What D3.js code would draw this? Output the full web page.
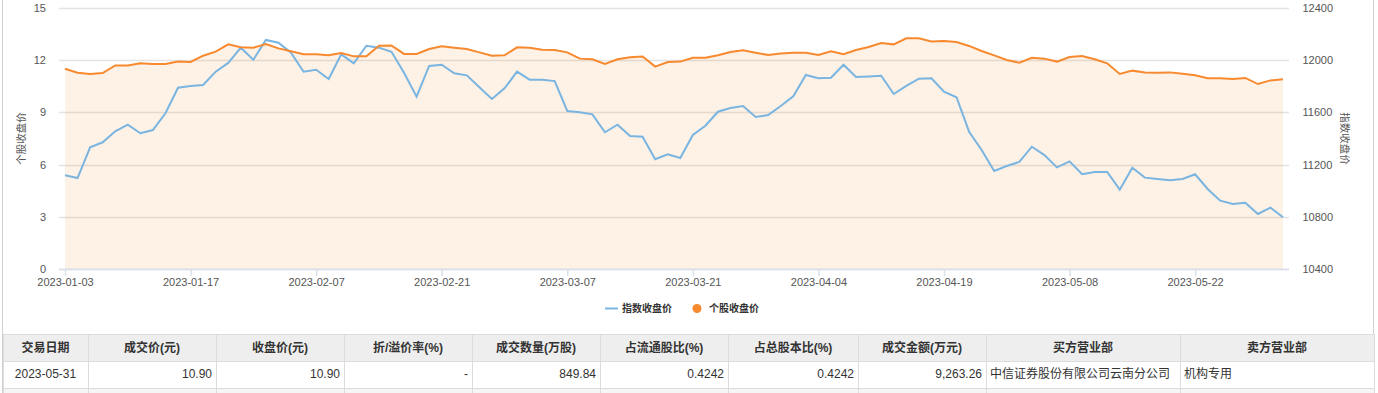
<!DOCTYPE html>
<html>
<head>
<meta charset="utf-8">
<script src="https://cdn.jsdelivr.net/npm/d3@7"></script>
<style>
  body { margin: 0; background: #fff; }
  text { font-family: "Liberation Sans", "Noto Sans CJK SC", sans-serif; }
</style>
</head>
<body>
<div id="chart"></div>
<script>
var dates = [
  '2023-01-03','2023-01-04','2023-01-05','2023-01-06','2023-01-09','2023-01-10','2023-01-11','2023-01-12','2023-01-13','2023-01-16',
  '2023-01-17','2023-01-18','2023-01-19','2023-01-20','2023-01-30','2023-01-31','2023-02-01','2023-02-02','2023-02-03','2023-02-06',
  '2023-02-07','2023-02-08','2023-02-09','2023-02-10','2023-02-13','2023-02-14','2023-02-15','2023-02-16','2023-02-17','2023-02-20',
  '2023-02-21','2023-02-22','2023-02-23','2023-02-24','2023-02-27','2023-02-28','2023-03-01','2023-03-02','2023-03-03','2023-03-06',
  '2023-03-07','2023-03-08','2023-03-09','2023-03-10','2023-03-13','2023-03-14','2023-03-15','2023-03-16','2023-03-17','2023-03-20',
  '2023-03-21','2023-03-22','2023-03-23','2023-03-24','2023-03-27','2023-03-28','2023-03-29','2023-03-30','2023-03-31','2023-04-03',
  '2023-04-04','2023-04-06','2023-04-07','2023-04-10','2023-04-11','2023-04-12','2023-04-13','2023-04-14','2023-04-17','2023-04-18',
  '2023-04-19','2023-04-20','2023-04-21','2023-04-24','2023-04-25','2023-04-26','2023-04-27','2023-04-28','2023-05-04','2023-05-05',
  '2023-05-08','2023-05-09','2023-05-10','2023-05-11','2023-05-12','2023-05-15','2023-05-16','2023-05-17','2023-05-18','2023-05-19',
  '2023-05-22','2023-05-23','2023-05-24','2023-05-25','2023-05-26','2023-05-29','2023-05-30','2023-05-31'
];

// 个股收盘价 (left axis)
var stockClose = [
  11.51, 11.28, 11.21, 11.26, 11.70, 11.70, 11.82, 11.78, 11.78, 11.92,
  11.90, 12.26, 12.49, 12.91, 12.74, 12.72, 12.93, 12.68, 12.51, 12.34,
  12.34, 12.28, 12.41, 12.22, 12.22, 12.83, 12.85, 12.36, 12.36, 12.64,
  12.80, 12.72, 12.64, 12.45, 12.26, 12.28, 12.74, 12.72, 12.60, 12.58,
  12.45, 12.09, 12.05, 11.78, 12.05, 12.17, 12.21, 11.63, 11.90, 11.92,
  12.14, 12.14, 12.28, 12.47, 12.57, 12.43, 12.30, 12.39, 12.43, 12.43,
  12.30, 12.51, 12.34, 12.59, 12.76, 12.99, 12.91, 13.26, 13.26, 13.08,
  13.10, 13.05, 12.82, 12.53, 12.28, 12.01, 11.86, 12.14, 12.09, 11.92,
  12.18, 12.24, 12.05, 11.82, 11.21, 11.40, 11.30, 11.28, 11.30, 11.22,
  11.13, 10.96, 10.96, 10.92, 10.98, 10.63, 10.84, 10.90
];

// 指数收盘价 (right axis)
var indexClose = [
  11118, 11097, 11332, 11371, 11455, 11506, 11440, 11465, 11593, 11789,
  11803, 11810, 11912, 11979, 12096, 12004, 12155, 12134, 12057, 11912,
  11927, 11856, 12045, 11976, 12111, 12096, 12065, 11904, 11720, 11956,
  11965, 11900, 11884, 11792, 11703, 11784, 11912, 11851, 11851, 11840,
  11611, 11601, 11585, 11448, 11506, 11419, 11414, 11241, 11279, 11251,
  11427, 11498, 11605, 11633, 11649, 11565, 11580, 11649, 11724, 11887,
  11861, 11866, 11965, 11871, 11876, 11881, 11741, 11803, 11858, 11861,
  11759, 11716, 11452, 11312, 11151, 11189, 11220, 11337, 11273, 11179,
  11225, 11126, 11143, 11143, 11008, 11176, 11100, 11090, 11080, 11090,
  11126, 11013, 10924, 10898, 10908, 10822, 10870, 10796
];

var xTickLabels = ['2023-01-03','2023-01-17','2023-02-07','2023-02-21','2023-03-07',
  '2023-03-21','2023-04-04','2023-04-19','2023-05-08','2023-05-22'];
var leftTicks = [0, 3, 6, 9, 12, 15];
var rightTicks = [10400, 10800, 11200, 11600, 12000, 12400];

var legendItems = ['指数收盘价', '个股收盘价'];
var tableHeaders = ['交易日期','成交价(元)','收盘价(元)','折/溢价率(%)','成交数量(万股)',
  '占流通股比(%)','占总股本比(%)','成交金额(万元)','买方营业部','卖方营业部'];
var tableRow = ['2023-05-31','10.90','10.90','-','849.84','0.4242','0.4242','9,263.26',
  '中信证券股份有限公司云南分公司','机构专用'];
var colEdges = [3, 88, 216, 344, 472, 600, 728, 858, 986, 1180, 1374];
var colAlign = ['middle','end','end','end','end','end','end','end','start','start'];

var W = 1378, H = 393;
var blue = '#79b5e0', orange = '#f7892f';

var svg = d3.select('#chart').append('svg')
  .attr('width', W)
  .attr('height', H);

svg.append('rect').attr('width', W).attr('height', H).attr('fill', '#fff');

var x = d3.scalePoint().domain(dates).range([65, 1283]);
var yL = d3.scaleLinear().domain([0, 15]).range([269, 8]);
var yR = d3.scaleLinear().domain([10400, 12400]).range([269, 8]);

// grid lines
svg.append('g').selectAll('line')
  .data(leftTicks)
  .enter().append('line')
  .attr('x1', 59).attr('x2', 1289)
  .attr('y1', function(d) { return Math.round(yL(d)) + 0.5; })
  .attr('y2', function(d) { return Math.round(yL(d)) + 0.5; })
  .attr('stroke', '#e3e3e3')
  .attr('stroke-width', 1.3);

// area under stock line
var area = d3.area()
  .x(function(d, i) { return x(dates[i]); })
  .y0(yL(0))
  .y1(function(d) { return yL(d); });

svg.append('path')
  .datum(stockClose)
  .attr('d', area)
  .attr('fill', orange)
  .attr('fill-opacity', 0.12);

// x axis
svg.append('line')
  .attr('x1', 59).attr('x2', 1289)
  .attr('y1', 269.5).attr('y2', 269.5)
  .attr('stroke', '#d8e0ea')
  .attr('stroke-width', 1.5);

var xAxis = svg.append('g')
  .attr('transform', 'translate(0,269)')
  .call(d3.axisBottom(x).tickValues(xTickLabels).tickSize(7).tickPadding(2));
xAxis.select('.domain').remove();
xAxis.selectAll('.tick line').attr('stroke', '#d8e0ea').attr('stroke-width', 1.5);
xAxis.selectAll('text').attr('fill', '#555').style('font-size', '11px');

var leftAxis = svg.append('g')
  .attr('transform', 'translate(59,0)')
  .call(d3.axisLeft(yL).tickValues(leftTicks).tickSize(0).tickPadding(13));
leftAxis.select('.domain').remove();
leftAxis.selectAll('text').attr('fill', '#555').style('font-size', '11px');

var rightAxis = svg.append('g')
  .attr('transform', 'translate(1289,0)')
  .call(d3.axisRight(yR).tickValues(rightTicks).tickFormat(d3.format('d')).tickSize(0).tickPadding(13.5));
rightAxis.select('.domain').remove();
rightAxis.selectAll('text').attr('fill', '#555').style('font-size', '11px');

// axis titles
svg.append('text')
  .attr('transform', 'translate(21.5,138.5) rotate(-90)')
  .attr('text-anchor', 'middle')
  .attr('dy', '0.35em')
  .attr('fill', '#555')
  .style('font-size', '10.5px')
  .text('个股收盘价');

svg.append('text')
  .attr('transform', 'translate(1345,138.5) rotate(90)')
  .attr('text-anchor', 'middle')
  .attr('dy', '0.35em')
  .attr('fill', '#555')
  .style('font-size', '10.5px')
  .text('指数收盘价');

// lines
var indexLine = d3.line()
  .x(function(d, i) { return x(dates[i]); })
  .y(function(d) { return yR(d); });
var stockLine = d3.line()
  .x(function(d, i) { return x(dates[i]); })
  .y(function(d) { return yL(d); });

svg.append('path')
  .datum(indexClose)
  .attr('d', indexLine)
  .attr('fill', 'none')
  .attr('stroke', blue)
  .attr('stroke-width', 2);

svg.append('path')
  .datum(stockClose)
  .attr('d', stockLine)
  .attr('fill', 'none')
  .attr('stroke', orange)
  .attr('stroke-width', 2);

// legend
var lg = svg.append('g').attr('transform', 'translate(0,308)');
lg.append('line')
  .attr('x1', 605).attr('x2', 618).attr('y1', 0.5).attr('y2', 0.5)
  .attr('stroke', blue).attr('stroke-width', 2);
lg.append('text')
  .attr('x', 622).attr('dy', '0.35em')
  .attr('fill', '#333').style('font-size', '10px').style('font-weight', 'bold')
  .text(legendItems[0]);
lg.append('circle')
  .attr('cx', 697).attr('cy', 0.5).attr('r', 4.5)
  .attr('fill', orange);
lg.append('text')
  .attr('x', 709).attr('dy', '0.35em')
  .attr('fill', '#333').style('font-size', '10px').style('font-weight', 'bold')
  .text(legendItems[1]);

// outer frame
svg.append('line').attr('x1', 2.5).attr('x2', 2.5).attr('y1', 0).attr('y2', H)
  .attr('stroke', '#cfcfcf');
svg.append('line').attr('x1', 1373.5).attr('x2', 1373.5).attr('y1', 0).attr('y2', H)
  .attr('stroke', '#cfcfcf');

// table
var rows = [
  {y: 334, h: 27, fill: '#eeeeee'},
  {y: 361, h: 27, fill: '#ffffff'},
  {y: 388, h: 6, fill: '#f5f5f5'}
];
var tbl = svg.append('g');
tbl.selectAll('rect.row')
  .data(rows)
  .enter().append('rect')
  .attr('class', 'row')
  .attr('x', colEdges[0]).attr('y', function(d) { return d.y; })
  .attr('width', colEdges[colEdges.length - 1] - colEdges[0])
  .attr('height', function(d) { return d.h; })
  .attr('fill', function(d) { return d.fill; });

tbl.selectAll('line.h')
  .data([334, 361, 388])
  .enter().append('line')
  .attr('class', 'h')
  .attr('x1', colEdges[0]).attr('x2', colEdges[colEdges.length - 1])
  .attr('y1', function(d) { return d + 0.5; }).attr('y2', function(d) { return d + 0.5; })
  .attr('stroke', '#dcdcdc');

tbl.selectAll('line.v')
  .data(colEdges)
  .enter().append('line')
  .attr('class', 'v')
  .attr('x1', function(d) { return d + 0.5; }).attr('x2', function(d) { return d + 0.5; })
  .attr('y1', 334).attr('y2', H)
  .attr('stroke', '#dcdcdc');

tbl.selectAll('text.hd')
  .data(tableHeaders)
  .enter().append('text')
  .attr('class', 'hd')
  .attr('x', function(d, i) { return (colEdges[i] + colEdges[i + 1]) / 2; })
  .attr('y', 348)
  .attr('dy', '0.35em')
  .attr('text-anchor', 'middle')
  .attr('fill', '#333')
  .style('font-size', '12px')
  .style('font-weight', 'bold')
  .text(function(d) { return d; });

tbl.selectAll('text.cell')
  .data(tableRow)
  .enter().append('text')
  .attr('class', 'cell')
  .attr('x', function(d, i) {
    if (colAlign[i] === 'middle') return (colEdges[i] + colEdges[i + 1]) / 2;
    if (colAlign[i] === 'end') return colEdges[i + 1] - 4;
    return colEdges[i] + 4;
  })
  .attr('y', 374)
  .attr('dy', '0.35em')
  .attr('text-anchor', function(d, i) { return colAlign[i]; })
  .attr('fill', '#333')
  .style('font-size', '12px')
  .text(function(d) { return d; });
</script>
</body>
</html>
